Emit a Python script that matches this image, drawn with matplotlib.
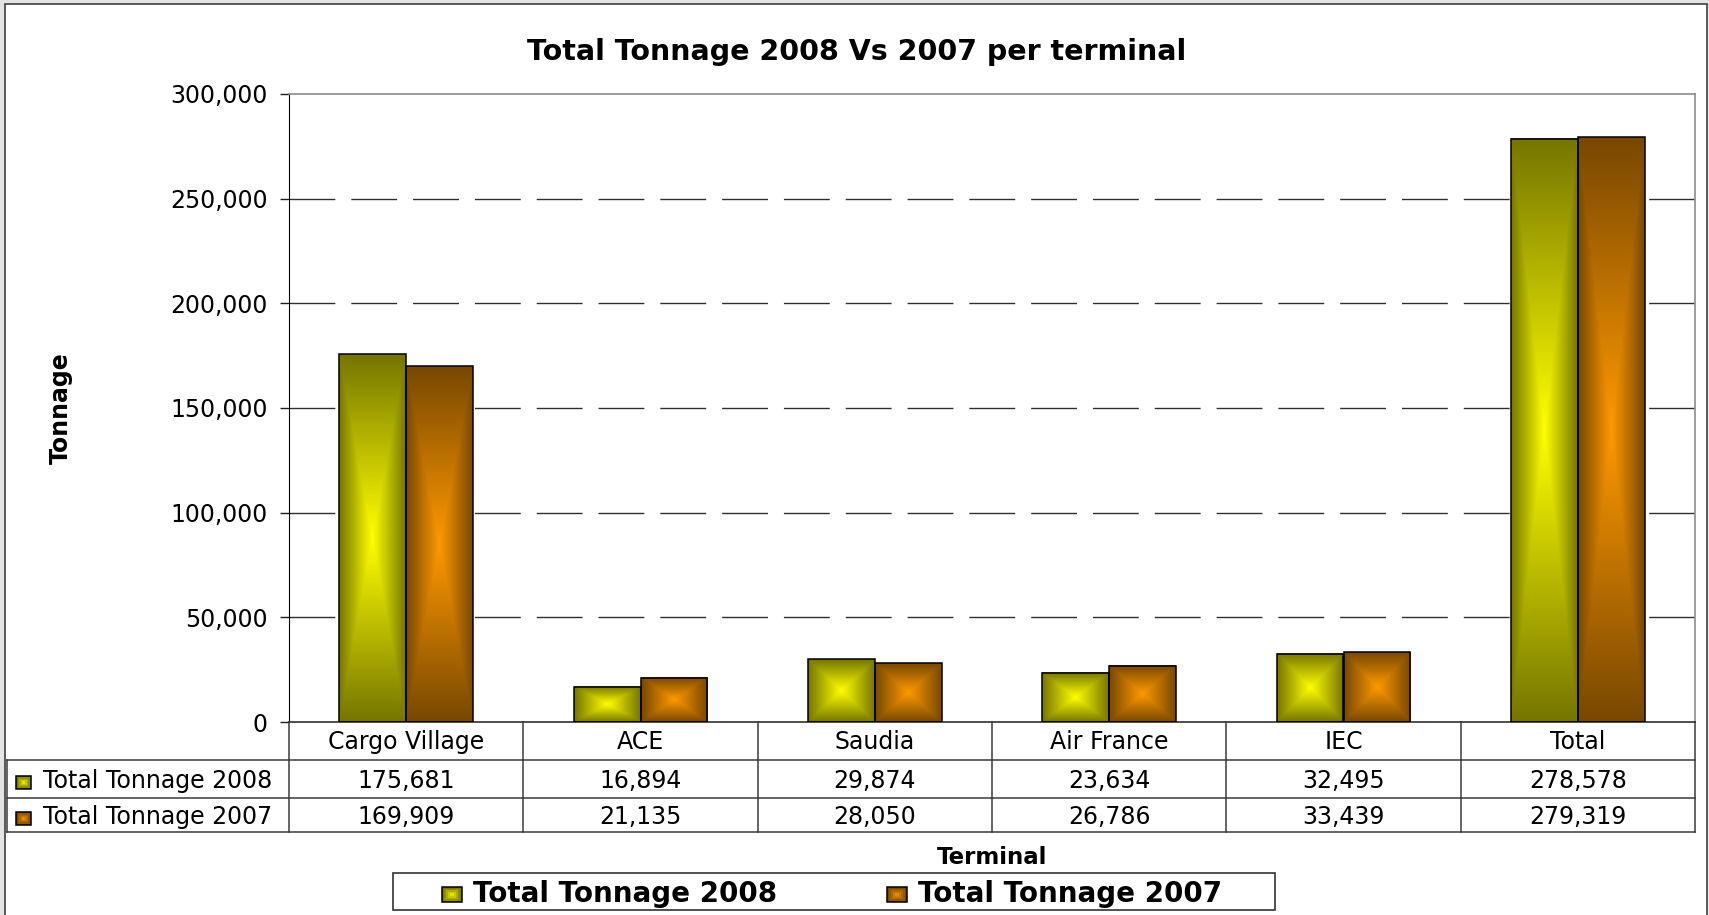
import numpy as np
import matplotlib
matplotlib.use("Agg")
import matplotlib.pyplot as plt
from matplotlib.patches import Rectangle
from matplotlib import transforms
from matplotlib.ticker import FuncFormatter

# data
terminals = ["Cargo Village", "ACE", "Saudia", "Air France", "IEC", "Total"]
series_names = ["Total Tonnage 2008", "Total Tonnage 2007"]
tonnage_2008 = [175681, 16894, 29874, 23634, 32495, 278578]
tonnage_2007 = [169909, 21135, 28050, 26786, 33439, 279319]
y_ticks = [0, 50000, 100000, 150000, 200000, 250000, 300000]

centre_cols = [np.array([1.0, 1.0, 0.0]), np.array([1.0, 0.6, 0.0])]
edge_cols = [np.array([0.46, 0.46, 0.0]), np.array([0.47, 0.28, 0.0])]

W, H = 1709, 915
fig = plt.figure(figsize=(W / 100, H / 100), dpi=100)
fig.patch.set_facecolor("#e4e4e4")

# pixel coords, origin top-left
pix = transforms.Affine2D().scale(1, -1).translate(0, H)


def fx(p):
    return p / W


def fy(p):
    return 1 - p / H


def gradient(k, n=200):
    """rectangle-from-centre gradient like Excel"""
    u = np.linspace(-1, 1, n)
    U, V = np.meshgrid(u, u)
    t = np.maximum(np.abs(U), np.abs(V))[..., None]
    return centre_cols[k] + (edge_cols[k] - centre_cols[k]) * t


def draw_key(x0, y0, w, h, k):
    """small legend key: nested rectangles to fake the gradient"""
    steps = 5
    for i in range(steps):
        t = 1 - i / steps
        col = centre_cols[k] + (edge_cols[k] - centre_cols[k]) * t
        dx = w * i / (2 * steps)
        dy = h * i / (2 * steps)
        fig.add_artist(Rectangle((x0 + dx, y0 + dy), w - 2 * dx, h - 2 * dy,
                                 transform=pix, facecolor=col, edgecolor="none", zorder=5))
    fig.add_artist(Rectangle((x0, y0), w, h, transform=pix, facecolor="none",
                             edgecolor="black", lw=1.1, zorder=6))


# white chart area with border
fig.add_artist(Rectangle((5, 4), 1702, 930, transform=pix, facecolor="white",
                         edgecolor="#404040", lw=1.2, zorder=0))

ax = fig.add_axes([fx(289), fy(722), fx(1695) - fx(289), fy(94) - fy(722)])
ax.set_facecolor("white")

x = np.arange(len(terminals))
bw = 1 / 3.5
for k, vals in enumerate([tonnage_2008, tonnage_2007]):
    bars = ax.bar(x + (k - 0.5) * bw, vals, bw, facecolor="none",
                  edgecolor="black", lw=1.1, zorder=3)
    for b in bars:
        x0, y0, w, h = b.get_x(), b.get_y(), b.get_width(), b.get_height()
        ax.imshow(gradient(k), extent=(x0, x0 + w, y0, y0 + h), aspect="auto",
                  interpolation="bilinear", zorder=2)

ax.set_xlim(-0.5, len(terminals) - 0.5)
ax.set_ylim(y_ticks[0], y_ticks[-1])
ax.set_aspect("auto")

for v in y_ticks[1:-1]:
    ax.axhline(v, color="#303030", lw=1.0, linestyle=(0, (33, 11.5)), zorder=1)

ax.set_yticks(y_ticks)
ax.yaxis.set_major_formatter(FuncFormatter(lambda v, p: f"{v:,.0f}"))
ax.tick_params(axis="y", direction="out", length=6.5, width=1, pad=9,
               labelsize=17, color="#202020")
ax.set_xticks([])

ax.spines["left"].set_color("black")
ax.spines["bottom"].set_color("#303030")
ax.spines["bottom"].set_linewidth(1.2)
for s in ["top", "right"]:
    ax.spines[s].set_color("#8c8c8c")
    ax.spines[s].set_linewidth(1.2)

ax.set_ylabel("Tonnage", fontsize=17, fontweight="bold")
ax.yaxis.set_label_coords((73 - 289) / 1406, 0.5)

fig.text(fx(857), fy(60), "Total Tonnage 2008 Vs 2007 per terminal",
         ha="center", va="baseline", fontsize=20.5, fontweight="bold")

# data table under the plot
tab = transforms.blended_transform_factory(ax.transData, pix)
lc = "#3a3a3a"
row_lines = [760, 798, 832]
for yl in row_lines:
    fig.add_artist(plt.Line2D([7, 1695], [yl, yl], transform=pix, color=lc, lw=1.1))
for xl in [7]:
    fig.add_artist(plt.Line2D([xl, xl], [760, 832], transform=pix, color=lc, lw=1.1))
for xb in np.arange(len(terminals) + 1) - 0.5:
    fig.add_artist(plt.Line2D([xb, xb], [722, 832], transform=tab, color=lc, lw=1.1))

for i, name in enumerate(terminals):
    fig.text(i, 749, name, transform=tab, ha="center", va="baseline", fontsize=17)
for k, vals in enumerate([tonnage_2008, tonnage_2007]):
    base = [788, 824][k]
    draw_key(16, base - 12, 15, 13, k)
    fig.text(43, base, series_names[k], transform=pix, ha="left", va="baseline", fontsize=17)
    for i, v in enumerate(vals):
        fig.text(i, base, f"{v:,}", transform=tab, ha="center", va="baseline", fontsize=17)

ax.set_xlabel("Terminal", fontsize=16.5, fontweight="bold")
ax.xaxis.set_label_coords(0.5, (722 - 846) / 628)

# legend box
fig.add_artist(Rectangle((393, 873), 882, 37, transform=pix, facecolor="white",
                         edgecolor="#333333", lw=1.2, zorder=4))
for k, name in enumerate(series_names):
    kx = [442, 887][k]
    draw_key(kx, 887, 20, 15, k)
    fig.text(kx + 31, 902, name, transform=pix, ha="left", va="baseline",
             fontsize=20, fontweight="bold", zorder=6)

fig.savefig("out.png", dpi=100, facecolor=fig.get_facecolor())
